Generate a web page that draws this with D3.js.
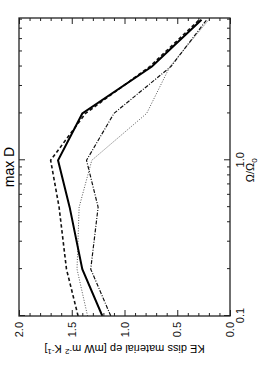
<!DOCTYPE html>
<html>
<head>
<meta charset="utf-8">
<script src="https://cdn.jsdelivr.net/npm/d3@7"></script>
<style>
  body { margin: 0; background: #fff; }
  svg { display: block; font-family: "Liberation Sans", Arial, sans-serif; }
  .axis path { display: none; }
  .axis line { stroke: #222; stroke-width: 1; }
  .axis text { font-size: 11px; fill: #111; }
</style>
</head>
<body>
<svg width="269" height="378"></svg>
<script>
// omega ratio (x) and dissipation values (y) for the four runs
var omega = [0.1, 0.2, 0.5, 1, 2, 4, 8];
var solidRun   = [1.21, 1.40, 1.52, 1.63, 1.40, 0.74, 0.27];
var dashedRun  = [1.44, 1.55, 1.62, 1.70, 1.37, 0.76, 0.29];
var dottedRun  = [1.35, 1.45, 1.43, 1.31, 0.79, 0.57, 0.20];
var dashDotRun = [1.13, 1.32, 1.25, 1.36, 1.10, 0.56, 0.22];

var xMajor = [0.1, 1];
var xMinor = [0.2, 0.3, 0.4, 0.5, 0.6, 0.7, 0.8, 0.9, 2, 3, 4, 5, 6, 7, 8];
var yMajor = [0, 0.5, 1.0, 1.5, 2.0];
var yMinor = [0.1, 0.2, 0.3, 0.4, 0.6, 0.7, 0.8, 0.9, 1.1, 1.2, 1.3, 1.4, 1.6, 1.7, 1.8, 1.9];

window.onload = function() {
  // the figure is drawn in portrait space (378 wide, 269 high) and turned -90deg
  var svg = d3.select("svg"),
      W = 378,
      margin = {top: 19, right: 18, bottom: 39, left: 62},
      width = W - margin.left - margin.right,
      height = 269 - margin.top - margin.bottom;

  var root = svg.append("g").attr("transform", "translate(0," + W + ") rotate(-90)");
  var g = root.append("g").attr("transform", "translate(" + margin.left + "," + margin.top + ")");

  var x = d3.scaleLog().domain([0.1, 8.2]).range([0, width]),
      y = d3.scaleLinear().domain([0, 2]).range([height, 0]);

  // major ticks + labels
  g.append("g").attr("class", "axis")
      .call(d3.axisLeft(y).tickValues(yMajor).tickSize(-6).tickPadding(6).tickFormat(d3.format(".1f")));
  g.append("g").attr("class", "axis")
      .call(d3.axisLeft(y).tickValues(yMinor).tickSize(-3).tickFormat(""));
  g.append("g").attr("class", "axis").attr("transform", "translate(" + width + ",0)")
      .call(d3.axisRight(y).tickValues(yMajor).tickSize(-6).tickFormat(""));
  g.append("g").attr("class", "axis").attr("transform", "translate(" + width + ",0)")
      .call(d3.axisRight(y).tickValues(yMinor).tickSize(-3).tickFormat(""));

  g.append("g").attr("class", "axis").attr("transform", "translate(0," + height + ")")
      .call(d3.axisBottom(x).tickValues(xMajor).tickSize(-6).tickPadding(6).tickFormat(d3.format(".1f")));
  g.append("g").attr("class", "axis").attr("transform", "translate(0," + height + ")")
      .call(d3.axisBottom(x).tickValues(xMinor).tickSize(-3).tickFormat(""));
  g.append("g").attr("class", "axis")
      .call(d3.axisTop(x).tickValues(xMajor).tickSize(-6).tickFormat(""));
  g.append("g").attr("class", "axis")
      .call(d3.axisTop(x).tickValues(xMinor).tickSize(-3).tickFormat(""));

  var line = d3.line()
      .x(function(d) { return x(d.o); })
      .y(function(d) { return y(d.v); });

  var runs = [
    {values: dottedRun, dash: "1,1.6", width: 1, color: "#555"},
    {values: dashDotRun, dash: "4,1.5,1,1.5", width: 1.2, color: "#111"},
    {values: dashedRun, dash: "3.5,2.5", width: 1.6, color: "#111"},
    {values: solidRun, dash: null, width: 2, color: "#000"}
  ];

  g.append("clipPath").attr("id", "clip")
    .append("rect").attr("width", width).attr("height", height);

  g.append("g").attr("clip-path", "url(#clip)")
    .selectAll("path")
    .data(runs)
    .enter().append("path")
      .attr("fill", "none")
      .attr("stroke", function(d) { return d.color; })
      .attr("stroke-width", function(d) { return d.width; })
      .attr("stroke-dasharray", function(d) { return d.dash; })
      .attr("d", function(d) {
        return line(d.values.map(function(v, i) { return {o: omega[i], v: v}; }));
      });

  g.append("rect")
      .attr("width", width)
      .attr("height", height)
      .attr("fill", "none")
      .attr("stroke", "#222")
      .attr("stroke-width", 1.3);

  // axis titles
  var xt = g.append("text")
      .attr("x", x(1) - 10)
      .attr("y", height + 24)
      .attr("text-anchor", "middle")
      .style("font-size", "11px");
  xt.append("tspan").text("\u03A9/\u03A9");
  xt.append("tspan").attr("dy", 3).style("font-size", "8px").text("0");

  var yt = g.append("text")
      .attr("transform", "translate(-29," + (height / 2) + ") rotate(-90)")
      .attr("text-anchor", "middle")
      .style("font-size", "11px");
  yt.append("tspan").text("KE diss material ep [mW m");
  yt.append("tspan").attr("dy", -4).style("font-size", "8px").text("-2");
  yt.append("tspan").attr("dy", 4).text(" K");
  yt.append("tspan").attr("dy", -4).style("font-size", "8px").text("-1");
  yt.append("tspan").attr("dy", 4).text("]");

  root.append("text")
      .attr("x", margin.left + width / 2)
      .attr("y", 14)
      .attr("text-anchor", "middle")
      .style("font-size", "14px")
      .text("max D");
};
</script>
</body>
</html>
